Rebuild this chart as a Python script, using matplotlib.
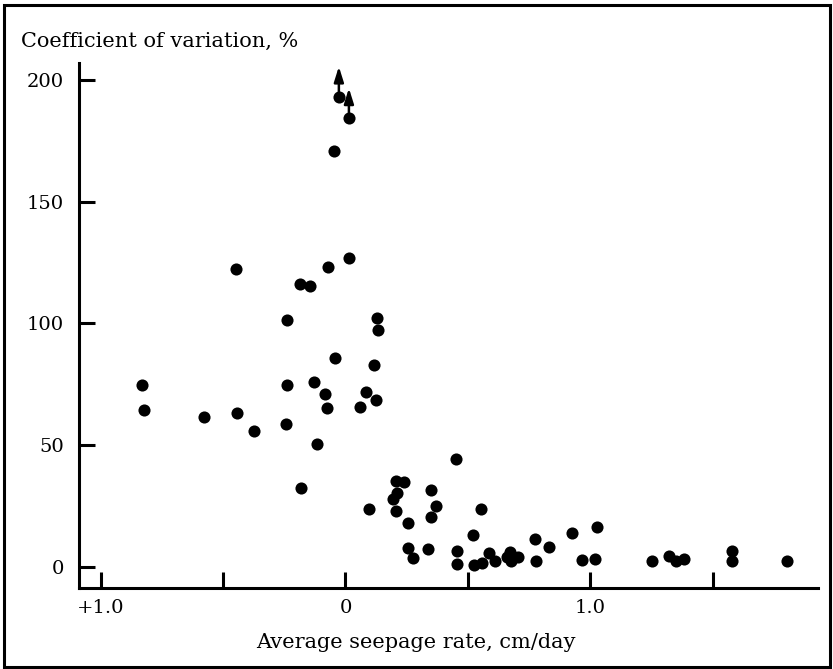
import numpy as np
import matplotlib
matplotlib.use("Agg")
import matplotlib.pyplot as plt
from matplotlib.patches import Rectangle

# seepage rate (cm/day, negative side is drawn as "+") and coefficient of variation (%)
seepage = [-0.832, -0.821, -0.579, -0.447, -0.443, -0.372,
           0.016, -0.073, -0.186, -0.144, -0.238, 0.129, 0.131, -0.043,
           0.118, -0.240, -0.130, -0.085, 0.084, 0.123, -0.077, 0.060,
           -0.243, -0.118, -0.180, -0.027, 0.014, -0.048,
           0.451, 0.206, 0.239, 0.349, 0.211, 0.195, 0.368, 0.348, 0.097,
           0.206, 0.256, 0.553, 0.522, 0.255, 0.276, 0.338, 0.454, 0.454,
           0.524, 0.556, 0.586, 0.610, 0.671, 0.658, 0.676, 0.703, 0.775,
           0.831, 0.778, 0.923, 1.025, 0.965, 1.018, 1.250, 1.320, 1.348,
           1.383, 1.579, 1.579, 1.803]
cv = [74.8, 64.4, 61.7, 122.2, 63.0, 55.9,
      126.8, 123.3, 116.2, 115.5, 101.3, 102.3, 97.4, 85.7,
      82.8, 74.8, 75.9, 70.9, 71.8, 68.4, 65.4, 65.8,
      58.8, 50.6, 32.5, 192.8, 184.5, 170.9,
      44.4, 35.3, 34.9, 31.5, 30.2, 27.8, 25.1, 20.6, 23.7,
      22.8, 18.0, 23.6, 13.2, 7.7, 3.7, 7.3, 6.5, 1.1,
      0.6, 1.4, 5.5, 2.5, 6.2, 4.1, 2.5, 3.9, 11.5,
      8.2, 2.3, 14.0, 16.2, 2.9, 3.0, 2.3, 4.4, 2.5,
      3.2, 6.5, 2.3, 2.5]

# values off the scale, marked with an upward arrow
off_x = [-0.027, 0.014]
off_y = [192.8, 184.5]
off_tip = [205.5, 196.6]

xticks = [-1.0, -0.5, 0.0, 0.5, 1.0, 1.5]
xticklabels = ["+1.0", "", "0", "", "1.0", ""]
yticks = [0, 50, 100, 150, 200]

plt.rcParams['font.family'] = ['DejaVu Serif']

fig = plt.figure(figsize=(8.33, 6.69), dpi=100)
ax = fig.add_axes([0.0948, 0.121, 0.982 - 0.0948, 0.906 - 0.121])

ax.scatter(seepage, cv, s=76, color='black', zorder=3, linewidths=0)
for x, y0, y1 in zip(off_x, off_y, off_tip):
    ax.annotate("", xy=(x, y1), xytext=(x, y0),
                arrowprops=dict(arrowstyle='-|>,head_length=0.7,head_width=0.22',
                                color='black', lw=1.8,
                                mutation_scale=13, shrinkA=0, shrinkB=0))

ax.set_xlim(-1.088, 1.929)
ax.set_ylim(-8.75, 207)
ax.set_xticks(xticks)
ax.set_xticklabels(xticklabels)
ax.set_yticks(yticks)

for side in ['top', 'right']:
    ax.spines[side].set_visible(False)
for side in ['left', 'bottom']:
    ax.spines[side].set_linewidth(2.2)
ax.tick_params(direction='in', length=11.5, width=2.2, labelsize=14)
ax.tick_params(axis='y', pad=11)
ax.tick_params(axis='x', pad=8)

fig.text(0.025, 0.93, "Coefficient of variation, %", fontsize=15, ha='left', va='baseline')
fig.text(0.499, 0.032, "Average seepage rate, cm/day", fontsize=15, ha='center', va='baseline')

fig.patches.append(Rectangle((0.005, 0.003), 0.991, 0.989, transform=fig.transFigure,
                             fill=False, edgecolor='black', linewidth=2.2))

fig.savefig("out.png", dpi=100)
